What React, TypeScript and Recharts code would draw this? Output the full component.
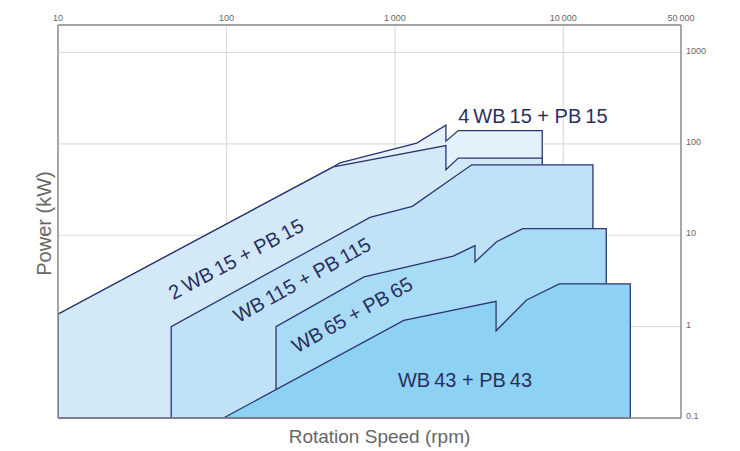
import React from 'react';
import {
  AreaChart,
  Area,
  XAxis,
  YAxis,
  CartesianGrid,
  ReferenceDot,
  ReferenceLine,
  Label,
} from 'recharts';

// rotation speed (rpm) / power (kW) outlines
const fourWb15 = [
  { x: 10, y: 0.1 },
  { x: 10, y: 1.37 },
  { x: 431, y: 56 },
  { x: 472, y: 62 },
  { x: 1350, y: 102 },
  { x: 2010, y: 160 },
  { x: 2010, y: 107 },
  { x: 2380, y: 140 },
  { x: 7500, y: 140 },
  { x: 7500, y: 0.1 },
];

const twoWb15 = [
  { x: 10, y: 0.1 },
  { x: 10, y: 1.37 },
  { x: 431, y: 56 },
  { x: 2010, y: 96 },
  { x: 2010, y: 52 },
  { x: 2380, y: 70 },
  { x: 7500, y: 70 },
  { x: 7500, y: 0.1 },
];

const wb115 = [
  { x: 47, y: 0.1 },
  { x: 47, y: 1 },
  { x: 712, y: 15.7 },
  { x: 1270, y: 20.7 },
  { x: 2860, y: 59 },
  { x: 15000, y: 59 },
  { x: 15000, y: 0.1 },
];

const wb65 = [
  { x: 197, y: 0.1 },
  { x: 197, y: 1 },
  { x: 656, y: 3.5 },
  { x: 2220, y: 5.9 },
  { x: 2990, y: 7.7 },
  { x: 2990, y: 5.1 },
  { x: 4020, y: 8.5 },
  { x: 5740, y: 11.8 },
  { x: 18000, y: 11.8 },
  { x: 18000, y: 0.1 },
];

const wb43 = [
  { x: 96, y: 0.1 },
  { x: 1130, y: 1.17 },
  { x: 3990, y: 1.89 },
  { x: 3990, y: 0.9 },
  { x: 6060, y: 1.96 },
  { x: 9470, y: 2.94 },
  { x: 25000, y: 2.94 },
  { x: 25000, y: 0.1 },
];

const seriesNames = [
  '4\u2009WB\u200915 + PB\u200915',
  '2\u2009WB\u200915 + PB\u200915',
  'WB\u2009115 + PB\u2009115',
  'WB\u200965 + PB\u200965',
  'WB\u200943 + PB\u200943',
];

// where each name sits, in rpm / kW
const labelAnchors = [
  { x: 6600, y: 204 },
  { x: 114, y: 5.5 },
  { x: 281, y: 3.25 },
  { x: 557, y: 1.345 },
  { x: 2610, y: 0.261 },
];

const xTicks = [10, 100, 1000, 10000, 50000];
const xTickLabels = ['10', '100', '1\u2009000', '10\u2009000', '50\u2009000'];
const yTicks = [0.1, 1, 10, 100, 1000];
const yTickLabels = ['0.1', '1', '10', '100', '1000'];

const FONT = '"Liberation Sans", Arial, sans-serif';
const NAVY = '#2b3570';
const fills = ['#e3f1fb', '#d3e9f8', '#c0e2f6', '#a8dbf5', '#8ed2f3'];
const series = [fourWb15, twoWb15, wb115, wb65, wb43];
const labelAngles = [0, -28, -29, -29, 0];

const TopTick = (props: any) => {
  const { x, y, payload } = props;
  const i = xTicks.indexOf(payload.value);
  return (
    <text x={x} y={y - 4} textAnchor="middle" fontSize={9} fill="#666" fontFamily={FONT}>
      {xTickLabels[i]}
    </text>
  );
};

const RightTick = (props: any) => {
  const { x, y, payload } = props;
  const i = yTicks.indexOf(payload.value);
  return (
    <text x={x + 5} y={y + 1} textAnchor="start" fontSize={9} fill="#666" fontFamily={FONT}>
      {yTickLabels[i]}
    </text>
  );
};

const SeriesName = ({ cx, cy, text, angle }: any) => (
  <text
    x={cx}
    y={cy}
    textAnchor="middle"
    dominantBaseline="central"
    transform={angle ? `rotate(${angle} ${cx} ${cy})` : undefined}
    fontSize={20}
    fill="#2a2f5e"
    fontFamily={FONT}
  >
    {text}
  </text>
);

export default function App() {
  const bottomStart = twoWb15[0].x;
  const bottomEnd = wb43[wb43.length - 1].x;
  return (
    <div style={{ position: 'absolute', left: 0, top: 0, fontFamily: FONT }}>
      <AreaChart
        width={740}
        height={451}
        margin={{ top: 0, right: 0, bottom: 0, left: 0 }}
      >
        <CartesianGrid
          xAxisId="top"
          yAxisId="right"
          stroke="#dcdcdc"
          strokeWidth={1.2}
        />
        <XAxis
          xAxisId="top"
          orientation="top"
          dataKey="x"
          type="number"
          scale="log"
          domain={[10, 50000]}
          ticks={xTicks}
          allowDataOverflow
          height={25}
          tickSize={0}
          tickMargin={0}
          tickLine={false}
          tick={<TopTick />}
          axisLine={{ stroke: '#8a8a8a', strokeWidth: 1.4 }}
        />
        <XAxis
          xAxisId="bottom"
          orientation="bottom"
          dataKey="x"
          type="number"
          scale="log"
          domain={[10, 50000]}
          ticks={xTicks}
          allowDataOverflow
          height={33}
          tick={false}
          tickLine={false}
          axisLine={{ stroke: '#8a8a8a', strokeWidth: 1.4 }}
        >
          <Label
            content={(p: any) => {
              const vb = p.viewBox;
              return (
                <text
                  x={vb.x + vb.width / 2 + 10}
                  y={vb.y + 25}
                  textAnchor="middle"
                  fontSize={19}
                  fill="#666"
                  fontFamily={FONT}
                >
                  Rotation Speed (rpm)
                </text>
              );
            }}
          />
        </XAxis>
        <YAxis
          yAxisId="right"
          orientation="right"
          type="number"
          scale="log"
          domain={[0.1, 2000]}
          ticks={yTicks}
          allowDataOverflow
          width={59}
          tickSize={0}
          tickMargin={0}
          tickLine={false}
          tick={<RightTick />}
          axisLine={{ stroke: '#8a8a8a', strokeWidth: 1.4 }}
        />
        <YAxis
          yAxisId="left"
          orientation="left"
          type="number"
          scale="log"
          domain={[0.1, 2000]}
          ticks={yTicks}
          allowDataOverflow
          width={58}
          tick={false}
          tickLine={false}
          axisLine={{ stroke: '#8a8a8a', strokeWidth: 1.4 }}
        >
          <Label
            content={(p: any) => {
              const vb = p.viewBox;
              const cx = vb.x + vb.width - 14;
              const cy = vb.y + vb.height / 2 + 2;
              return (
                <text
                  x={cx}
                  y={cy}
                  textAnchor="middle"
                  dominantBaseline="central"
                  transform={`rotate(-90 ${cx} ${cy})`}
                  fontSize={20}
                  fill="#666"
                  fontFamily={FONT}
                >
                  Power (kW)
                </text>
              );
            }}
          />
        </YAxis>

        {series.map((d, i) => (
          <Area
            key={seriesNames[i]}
            data={d}
            xAxisId="top"
            yAxisId="right"
            dataKey="y"
            type="linear"
            baseValue={0.1}
            stroke={NAVY}
            strokeWidth={1.3}
            strokeLinejoin="miter"
            fill={fills[i]}
            fillOpacity={1}
            dot={false}
            activeDot={false}
            isAnimationActive={false}
          />
        ))}

        <ReferenceLine
          xAxisId="top"
          yAxisId="right"
          segment={[
            { x: bottomStart, y: 0.1 },
            { x: bottomEnd, y: 0.1 },
          ]}
          stroke={NAVY}
          strokeWidth={1.6}
          ifOverflow="visible"
        />

        {labelAnchors.map((a, i) => (
          <ReferenceDot
            key={'lbl' + i}
            xAxisId="top"
            yAxisId="right"
            x={a.x}
            y={a.y}
            r={0}
            ifOverflow="visible"
            shape={(p: any) => (
              <SeriesName cx={p.cx} cy={p.cy} text={seriesNames[i]} angle={labelAngles[i]} />
            )}
          />
        ))}
      </AreaChart>
    </div>
  );
}
